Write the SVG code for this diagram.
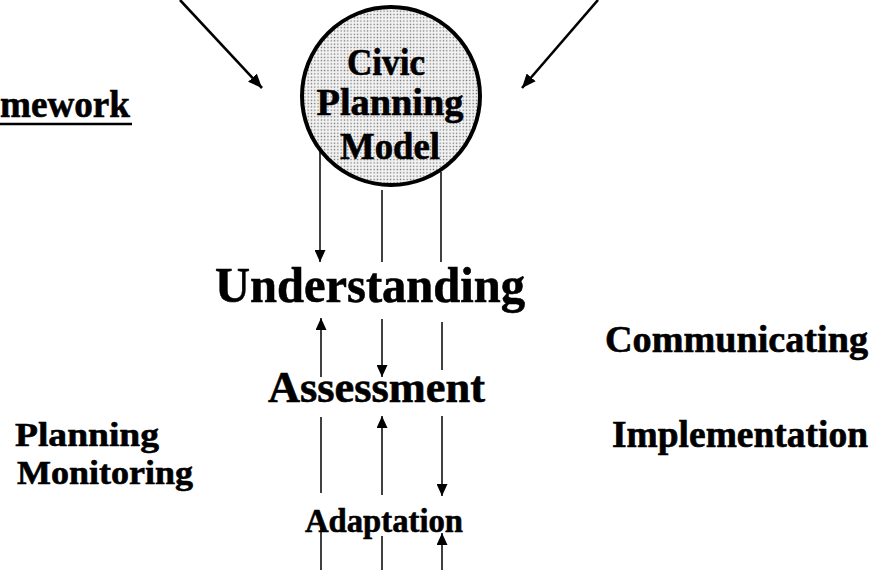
<svg xmlns="http://www.w3.org/2000/svg" width="872" height="570" viewBox="0 0 872 570">
<style>
  .t { font-family: "Liberation Serif", "Times New Roman", serif; font-weight: bold; fill: #000; stroke: #000; stroke-width: 0.6; }
  .ln { stroke: #000; stroke-width: 1.5; fill: none; }
  .dg { stroke: #000; stroke-width: 2.6; fill: none; }
</style>
<defs>
  <pattern id="stip" patternUnits="userSpaceOnUse" width="3.3" height="3.3">
    <rect width="3.3" height="3.3" fill="#f4f4f4"/>
    <rect x="0.6" y="0.6" width="1.3" height="1.3" fill="#6a6a6a"/>
  </pattern>
  <marker id="ah" markerUnits="userSpaceOnUse" viewBox="0 0 12 11" refX="12" refY="5.5" markerWidth="12" markerHeight="11" orient="auto">
    <path d="M0,0 L12,5.5 L0,11 z" fill="#000"/>
  </marker>
  <marker id="ahd" markerUnits="userSpaceOnUse" viewBox="0 0 14 12" refX="14" refY="6" markerWidth="14" markerHeight="12" orient="auto">
    <path d="M0,0 L14,6 L0,12 z" fill="#000"/>
  </marker>
</defs>

<g id="framework">
  <text class="t" x="0" y="117" font-size="37" textLength="130" lengthAdjust="spacingAndGlyphs">mework</text>
  <line x1="0" y1="124" x2="132" y2="124" stroke="#000" stroke-width="2.5"/>
</g>

<g id="civic-planning-model">
  <circle cx="391" cy="96" r="89" fill="url(#stip)" stroke="#000" stroke-width="4"/>
  <text class="t" x="386" y="75" font-size="38" text-anchor="middle" textLength="78" lengthAdjust="spacingAndGlyphs">Civic</text>
  <text class="t" x="390" y="115" font-size="38" text-anchor="middle" textLength="147" lengthAdjust="spacingAndGlyphs">Planning</text>
  <text class="t" x="390" y="159" font-size="38" text-anchor="middle" textLength="100" lengthAdjust="spacingAndGlyphs">Model</text>
</g>

<g id="understanding">
  <text class="t" x="215" y="302" font-size="50" textLength="310" lengthAdjust="spacingAndGlyphs">Understanding</text>
</g>
<g id="assessment">
  <text class="t" x="268" y="402" font-size="44" textLength="217" lengthAdjust="spacingAndGlyphs">Assessment</text>
</g>
<g id="adaptation">
  <text class="t" x="305" y="532" font-size="33" textLength="158" lengthAdjust="spacingAndGlyphs">Adaptation</text>
</g>
<g id="communicating">
  <text class="t" x="605" y="352" font-size="38" textLength="263" lengthAdjust="spacingAndGlyphs">Communicating</text>
</g>
<g id="implementation">
  <text class="t" x="612" y="447" font-size="37" textLength="256" lengthAdjust="spacingAndGlyphs">Implementation</text>
</g>
<g id="planning">
  <text class="t" x="15" y="446" font-size="34" textLength="144" lengthAdjust="spacingAndGlyphs">Planning</text>
</g>
<g id="monitoring">
  <text class="t" x="17" y="484" font-size="34" textLength="176" lengthAdjust="spacingAndGlyphs">Monitoring</text>
</g>

<g id="connectors">
  <line class="dg" x1="180" y1="0" x2="262" y2="88" marker-end="url(#ahd)"/>
  <line class="dg" x1="598" y1="0" x2="522" y2="88" marker-end="url(#ahd)"/>

  <line class="ln" x1="320" y1="151" x2="320" y2="262" marker-end="url(#ah)" stroke-width="2"/>
  <line class="ln" x1="382" y1="190" x2="382" y2="262"/>
  <line class="ln" x1="441" y1="172" x2="441" y2="262"/>

  <line class="ln" x1="321" y1="377" x2="321" y2="318" marker-end="url(#ah)"/>
  <line class="ln" x1="382" y1="319" x2="382" y2="377" marker-end="url(#ah)"/>
  <line class="ln" x1="442" y1="322" x2="442" y2="370"/>

  <line class="ln" x1="321" y1="417" x2="321" y2="493"/>
  <line class="ln" x1="382" y1="495" x2="382" y2="416" marker-end="url(#ah)"/>
  <line class="ln" x1="442" y1="416" x2="442" y2="496" marker-end="url(#ah)"/>

  <line class="ln" x1="321" y1="528" x2="321" y2="570"/>
  <line class="ln" x1="382" y1="536" x2="382" y2="570"/>
  <line class="ln" x1="442" y1="570" x2="442" y2="533" marker-end="url(#ah)"/>
</g>
</svg>
